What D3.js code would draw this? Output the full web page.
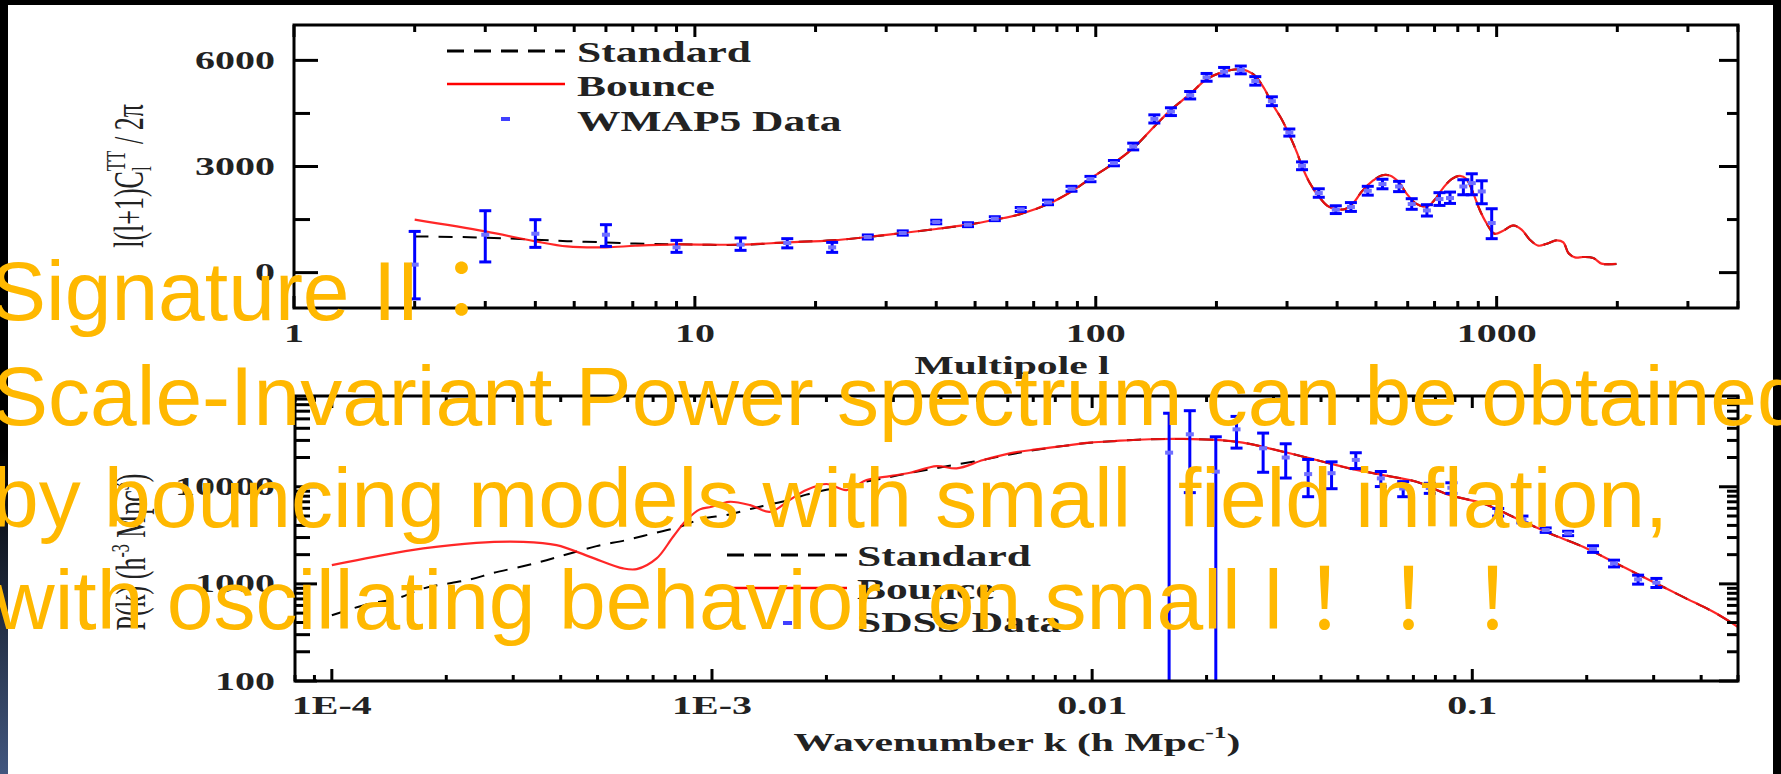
<!DOCTYPE html>
<html>
<head>
<meta charset="utf-8">
<script src="https://cdn.jsdelivr.net/npm/d3@7"></script>
<style>
  html, body { margin: 0; padding: 0; background: #000; overflow: hidden; }
  svg { display: block; }
</style>
</head>
<body>
<svg id="fig" width="1781" height="774"></svg>
<script>
// ---------- CMB temperature spectrum (top panel) ----------
const multipoleGrid = [2, 3, 4, 4.8, 6, 7.1, 9, 13, 17, 22, 27, 33, 40, 48, 56, 65, 76, 87, 97, 111, 124, 140, 154, 172, 189, 209, 230, 239, 250, 263, 275, 290, 304, 318, 327, 342, 360, 378, 397, 419, 440, 461, 492, 516, 541, 568, 595, 630, 670, 701, 735, 772, 810, 841, 874, 907, 943, 988, 1038, 1100, 1154, 1210, 1270, 1334, 1412, 1467, 1510, 1568, 1645, 1742, 1826, 1990];
const bounceTT = [1496, 1165, 884, 740, 714, 760, 800, 790, 855, 912, 1007, 1120, 1233, 1355, 1496, 1656, 1938, 2295, 2662, 3096, 3519, 4130, 4600, 5051, 5465, 5681, 5748, 5700, 5559, 5212, 4789, 4365, 3894, 3378, 3000, 2531, 2154, 1891, 1798, 1798, 1984, 2295, 2605, 2747, 2747, 2577, 2249, 1947, 1871, 2060, 2390, 2644, 2737, 2644, 2249, 1778, 1402, 1100, 1185, 1335, 1213, 931, 762, 818, 912, 855, 555, 432, 442, 414, 254, 245];
const standardTT = [1024, 990, 931, 890, 855, 820, 800, 785, 855, 912, 1007, 1120, 1233, 1355, 1496, 1656, 1938, 2295, 2662, 3096, 3519, 4130, 4600, 5051, 5465, 5681, 5748, 5700, 5559, 5212, 4789, 4365, 3894, 3378, 3000, 2531, 2154, 1891, 1798, 1798, 1984, 2295, 2605, 2747, 2747, 2577, 2249, 1947, 1871, 2060, 2390, 2644, 2737, 2644, 2249, 1778, 1402, 1100, 1185, 1335, 1213, 931, 762, 818, 912, 855, 555, 432, 442, 414, 254, 245];

const wmapL  = [2, 3, 4, 6, 9, 13, 17, 22, 27, 33, 40, 48, 56, 65, 76, 87, 97, 111, 124, 140, 154, 172, 189, 209, 230, 250, 275, 304, 327, 360, 397, 433, 477, 519, 571, 614, 670, 720, 765, 826, 867, 918, 972];
const wmapTT = [226, 1072, 1100, 1072, 714, 790, 838, 714, 1007, 1120, 1430, 1355, 1524, 1786, 1984, 2370, 2644, 3096, 3564, 4346, 4552, 5015, 5522, 5681, 5729, 5418, 4845, 3960, 3020, 2249, 1778, 1854, 2314, 2503, 2435, 1938, 1758, 2080, 2108, 2435, 2531, 2295, 1402];
const wmapLo = [-742, 302, 714, 742, 573, 630, 700, 573, 950, 1060, 1380, 1300, 1470, 1730, 1920, 2300, 2570, 3020, 3470, 4230, 4440, 4910, 5410, 5560, 5620, 5300, 4720, 3860, 2910, 2130, 1670, 1730, 2190, 2370, 2290, 1790, 1600, 1900, 1956, 2201, 2201, 1947, 960];
const wmapHi = [1165, 1750, 1496, 1355, 912, 980, 960, 855, 1065, 1180, 1480, 1410, 1580, 1840, 2050, 2440, 2720, 3170, 3660, 4460, 4660, 5120, 5630, 5800, 5840, 5540, 4970, 4060, 3130, 2370, 1890, 1980, 2440, 2640, 2580, 2090, 1920, 2260, 2277, 2625, 2794, 2596, 1806];

const topYMajor = [0, 3000, 6000];
const topYMinor = [1500, 4500];

// ---------- matter power spectrum (bottom panel) ----------
const waveGrid = [1.0e-4, 1.29e-4, 1.74e-4, 2.4e-4, 3.18e-4, 3.9e-4, 4.78e-4, 5.84e-4, 6.34e-4, 7.15e-4, 7.9e-4, 8.57e-4, 9.29e-4, 9.98e-4, 1.11e-3, 1.26e-3, 1.42e-3, 1.6e-3, 1.77e-3, 2.0e-3, 2.26e-3, 2.55e-3, 2.94e-3, 3.32e-3, 3.9e-3, 4.4e-3, 5.17e-3, 6.07e-3, 7.14e-3, 8.39e-3, 9.86e-3, 1.16e-2, 1.42e-2, 1.735e-2, 2.12e-2, 2.49e-2, 3.18e-2, 3.89e-2, 4.76e-2, 5.83e-2, 7.13e-2, 8.73e-2, 0.1068, 0.1307, 0.16, 0.1956, 0.2394, 0.293, 0.3584, 0.4387, 0.5];
const bouncePk = [1560, 1897, 2318, 2649, 2710, 2506, 1897, 1443, 1419, 1828, 3054, 4540, 5850, 6220, 7000, 6470, 5520, 7300, 9250, 10670, 9250, 11720, 12880, 13930, 16330, 15450, 18840, 22080, 24270, 26300, 28440, 29650, 30830, 31050, 30340, 28440, 22960, 18840, 15450, 13180, 11250, 8200, 6730, 4720, 3300, 2410, 1622, 1092, 735, 495, 360];
const standardK = [1.0e-4, 1.26e-4, 1.48e-4, 1.74e-4, 2.31e-4, 2.66e-4, 3.18e-4, 3.67e-4, 4.23e-4, 4.97e-4, 5.96e-4, 7.0e-4, 8.23e-4, 9.48e-4, 1.09e-3, 1.28e-3, 1.42e-3, 1.6e-3, 1.77e-3, 2.0e-3, 2.26e-3, 2.55e-3, 2.94e-3, 3.32e-3, 3.9e-3, 4.4e-3, 5.17e-3, 6.07e-3, 7.14e-3, 8.39e-3, 9.86e-3, 1.16e-2, 1.42e-2, 1.735e-2, 2.12e-2, 2.49e-2, 3.18e-2, 3.89e-2, 4.76e-2, 5.83e-2, 7.13e-2, 8.73e-2, 0.1068, 0.1307, 0.16, 0.1956, 0.2394, 0.293, 0.3584, 0.4387, 0.5];
const standardPk = [475, 628, 706, 897, 1109, 1297, 1520, 1754, 2056, 2448, 2826, 3311, 3875, 4725, 5110, 5980, 6600, 7300, 8300, 9300, 10200, 11300, 12600, 13900, 15600, 17000, 18900, 21500, 24000, 26300, 28440, 29650, 30830, 31050, 30340, 28440, 22960, 18840, 15450, 13180, 11250, 8200, 6730, 4720, 3300, 2410, 1622, 1092, 735, 495, 360];

const sdssK   = [0.01594, 0.01807, 0.02115, 0.02398, 0.02817, 0.0323, 0.037, 0.04264, 0.04938, 0.05747, 0.0658, 0.0773, 0.0881, 0.117, 0.1355, 0.156, 0.1787, 0.2078, 0.236, 0.273, 0.305];
const sdssPk  = [22440, 34700, 14290, 39000, 24900, 20000, 13500, 13800, 18900, 12200, 9600, 9700, 9770, 5485, 4620, 3580, 3310, 2290, 1625, 1112, 1028];
const sdssErr = [34700, 26000, 18400, 14000, 10800, 7700, 5600, 4250, 3500, 2150, 1700, 1150, 1220, 495, 370, 190, 170, 180, 130, 118, 110];

const botXLabels = {"-4": "1E-4", "-3": "1E-3", "-2": "0.01", "-1": "0.1"};

const seriesNames = ["Standard", "Bounce"];
const slideLines = [
  "Signature II\uFF1A",
  "Scale-Invariant Power spectrum can be obtained",
  "by bouncing models with small  field inflation,",
  "with oscillating behavior  on small l\uFF01\uFF01\uFF01"
];

// ---------- drawing ----------
const W = 1781, H = 774;
const SX = 1.6;                 // horizontal stretch of the figure's lettering
const SERIF = "'Liberation Serif', 'DejaVu Serif', 'Times New Roman', serif";
const svg = d3.select("#fig");
const defs = svg.append("defs");

const edge = defs.append("linearGradient").attr("id", "edge")
  .attr("x1", 0).attr("y1", 0).attr("x2", 0).attr("y2", 1);
edge.append("stop").attr("offset", "0.58").attr("stop-color", "#000");
edge.append("stop").attr("offset", "1").attr("stop-color", "#42577f");

svg.append("rect").attr("width", W).attr("height", H).attr("fill", "#000");
svg.append("rect").attr("x", 0).attr("y", 0).attr("width", 8).attr("height", H).attr("fill", "url(#edge)");
svg.append("rect").attr("x", 8).attr("y", 5).attr("width", 1765).attr("height", H - 5).attr("fill", "#fff");

function stretched(parent, x, y, txt, o) {
  const g = parent.append("g").attr("transform", `translate(${x},${y}) scale(${o.sx || SX},1)`);
  return g.append("text")
    .attr("text-anchor", o.anchor || "middle")
    .attr("dominant-baseline", o.baseline || "central")
    .attr("font-family", SERIF)
    .attr("font-weight", o.weight || "bold")
    .attr("font-size", o.size || 25)
    .attr("fill", o.fill || "#222")
    .text(txt);
}

const line = (x, y, xs, ys) => d3.line()
  .x((d, i) => x(xs[i])).y(d => y(d))
  .curve(d3.curveCatmullRom.alpha(0.5));

function tick(g, x1, y1, x2, y2) {
  g.append("line").attr("x1", x1).attr("y1", y1).attr("x2", x2).attr("y2", y2)
    .attr("stroke", "#000").attr("stroke-width", 3);
}

// ===== top panel =====
const tp = {l: 294, r: 1738, t: 25, b: 308};
const xTop = d3.scaleLog().domain([1, 4000]).range([tp.l, tp.r]);
const yTop = d3.scaleLinear().domain([-1000, 7000]).range([tp.b, tp.t]);

defs.append("clipPath").attr("id", "clipTop").append("rect")
  .attr("x", tp.l).attr("y", tp.t).attr("width", tp.r - tp.l).attr("height", tp.b - tp.t);

const topG = svg.append("g");
const topPlot = topG.append("g").attr("clip-path", "url(#clipTop)");

topPlot.append("path").attr("d", line(xTop, yTop, multipoleGrid)(standardTT))
  .attr("fill", "none").attr("stroke", "#000").attr("stroke-width", 2).attr("stroke-dasharray", "14,10");
topPlot.append("path").attr("d", line(xTop, yTop, multipoleGrid)(bounceTT))
  .attr("fill", "none").attr("stroke", "#ff1010").attr("stroke-width", 2.2).attr("opacity", 0.9);

const wm = topPlot.append("g").attr("stroke", "#0000ff").attr("stroke-width", 3);
wmapL.forEach((l, i) => {
  const x = xTop(l), y0 = yTop(wmapLo[i]), y1 = yTop(wmapHi[i]);
  wm.append("line").attr("x1", x).attr("x2", x).attr("y1", y0).attr("y2", y1);
  wm.append("line").attr("x1", x - 6).attr("x2", x + 6).attr("y1", y0).attr("y2", y0);
  wm.append("line").attr("x1", x - 6).attr("x2", x + 6).attr("y1", y1).attr("y2", y1);
  topPlot.append("rect").attr("x", x - 4).attr("y", yTop(wmapTT[i]) - 2).attr("width", 8).attr("height", 4)
    .attr("fill", "#7070ff");
});

xTop.ticks().forEach(t => {
  const major = Math.abs(Math.log10(t) - Math.round(Math.log10(t))) < 1e-9;
  const len = major ? 12 : 7, x = xTop(t);
  tick(topG, x, tp.b, x, tp.b - len);
  tick(topG, x, tp.t, x, tp.t + len);
  if (major) stretched(topG, x, 333, d3.format("d")(t), {});
});
topYMajor.concat(topYMinor).forEach(v => {
  const major = topYMajor.includes(v), y = yTop(v);
  tick(topG, tp.l, y, tp.l + (major ? 24 : 16), y);
  tick(topG, tp.r, y, tp.r - (major ? 19 : 11), y);
  if (major) stretched(topG, 275, y, String(v), {anchor: "end"});
});
topG.append("rect").attr("x", tp.l).attr("y", tp.t).attr("width", tp.r - tp.l).attr("height", tp.b - tp.t)
  .attr("fill", "none").attr("stroke", "#000").attr("stroke-width", 3);

stretched(topG, 1012, 365, "Multipole l", {size: 26});

{
  const g = topG.append("g").attr("transform", `translate(143,176) scale(${SX},1) rotate(-90)`);
  const t = g.append("text").attr("text-anchor", "middle").attr("font-family", SERIF)
    .attr("font-size", 26).attr("fill", "#222");
  t.append("tspan").text("l(l+1)C");
  t.append("tspan").attr("font-size", 17).attr("dy", 5).text("l");
  t.append("tspan").attr("font-size", 17).attr("dx", -5).attr("dy", -16).text("TT");
  t.append("tspan").attr("dy", 11).text(" / 2\u03C0");
}

topG.append("line").attr("x1", 447).attr("x2", 565).attr("y1", 51).attr("y2", 51)
  .attr("stroke", "#000").attr("stroke-width", 3).attr("stroke-dasharray", "17,10");
topG.append("line").attr("x1", 447).attr("x2", 565).attr("y1", 84).attr("y2", 84)
  .attr("stroke", "#ff0000").attr("stroke-width", 2.5);
topG.append("rect").attr("x", 501).attr("y", 117).attr("width", 9).attr("height", 4).attr("fill", "#4040ff");
stretched(topG, 577, 52, seriesNames[0], {anchor: "start", size: 29, sx: 1.5});
stretched(topG, 577, 86, seriesNames[1], {anchor: "start", size: 29, sx: 1.5});
stretched(topG, 577, 121, "WMAP5 Data", {anchor: "start", size: 29, sx: 1.5});

// ===== bottom panel =====
const bp = {l: 295, r: 1738, t: 396, b: 681};
const xBot = d3.scaleLog().domain([8e-5, 0.5]).range([bp.l, bp.r]);
const yBot = d3.scaleLog().domain([100, 86000]).range([bp.b, bp.t]);

defs.append("clipPath").attr("id", "clipBot").append("rect")
  .attr("x", bp.l).attr("y", bp.t).attr("width", bp.r - bp.l).attr("height", bp.b - bp.t);

const botG = svg.append("g");
const botPlot = botG.append("g").attr("clip-path", "url(#clipBot)");

botPlot.append("path").attr("d", line(xBot, yBot, standardK)(standardPk))
  .attr("fill", "none").attr("stroke", "#000").attr("stroke-width", 2).attr("stroke-dasharray", "14,10");
botPlot.append("path").attr("d", line(xBot, yBot, waveGrid)(bouncePk))
  .attr("fill", "none").attr("stroke", "#ff1010").attr("stroke-width", 2.2).attr("opacity", 0.9);

const sd = botPlot.append("g").attr("stroke", "#0000ff").attr("stroke-width", 3);
sdssK.forEach((k, i) => {
  const x = xBot(k);
  const lo = sdssPk[i] - sdssErr[i], hi = sdssPk[i] + sdssErr[i];
  const y1 = yBot(hi), y0 = lo > 0 ? yBot(lo) : bp.b + 2;
  sd.append("line").attr("x1", x).attr("x2", x).attr("y1", y0).attr("y2", y1);
  sd.append("line").attr("x1", x - 6).attr("x2", x + 6).attr("y1", y1).attr("y2", y1);
  sd.append("line").attr("x1", x - 6).attr("x2", x + 6).attr("y1", y0).attr("y2", y0);
  botPlot.append("rect").attr("x", x - 4).attr("y", yBot(sdssPk[i]) - 2).attr("width", 8).attr("height", 4)
    .attr("fill", "#7070ff");
});

xBot.ticks().forEach(t => {
  const lg = Math.log10(t);
  const major = Math.abs(lg - Math.round(lg)) < 1e-9;
  const len = major ? 12 : 6, x = xBot(t);
  tick(botG, x, bp.b, x, bp.b - len);
  tick(botG, x, bp.t, x, bp.t + len);
  if (major) stretched(botG, x, 705, botXLabels[String(Math.round(lg))], {});
});
yBot.ticks().forEach(t => {
  const lg = Math.log10(t);
  const major = Math.abs(lg - Math.round(lg)) < 1e-9;
  const y = yBot(t);
  tick(botG, bp.l, y, bp.l + (major ? 22 : 15), y);
  tick(botG, bp.r, y, bp.r - (major ? 19 : 11), y);
  if (major) stretched(botG, 275, y, String(t), {anchor: "end"});
});
botG.append("rect").attr("x", bp.l).attr("y", bp.t).attr("width", bp.r - bp.l).attr("height", bp.b - bp.t)
  .attr("fill", "none").attr("stroke", "#000").attr("stroke-width", 3);

{
  const t = stretched(botG, 1017, 742, "", {size: 26});
  t.append("tspan").text("Wavenumber k (h Mpc");
  t.append("tspan").attr("font-size", 16).attr("dy", -9).text("-1");
  t.append("tspan").attr("dy", 9).text(")");
}
{
  const g = botG.append("g").attr("transform", `translate(145,552) scale(${SX},1) rotate(-90)`);
  const t = g.append("text").attr("text-anchor", "middle").attr("font-family", SERIF)
    .attr("font-size", 26).attr("fill", "#222");
  t.append("tspan").text("P(k) (h");
  t.append("tspan").attr("font-size", 16).attr("dy", -10).text("-3");
  t.append("tspan").attr("dy", 10).text(" Mpc");
  t.append("tspan").attr("font-size", 16).attr("dy", -10).text("3");
  t.append("tspan").attr("dy", 10).text(")");
}

botG.append("line").attr("x1", 727).attr("x2", 847).attr("y1", 555).attr("y2", 555)
  .attr("stroke", "#000").attr("stroke-width", 3).attr("stroke-dasharray", "17,10");
botG.append("line").attr("x1", 727).attr("x2", 847).attr("y1", 588).attr("y2", 588)
  .attr("stroke", "#ff0000").attr("stroke-width", 2.5);
botG.append("rect").attr("x", 783).attr("y", 621).attr("width", 9).attr("height", 4).attr("fill", "#4040ff");
stretched(botG, 857, 556, seriesNames[0], {anchor: "start", size: 29, sx: 1.5});
stretched(botG, 857, 589, seriesNames[1], {anchor: "start", size: 29, sx: 1.5});
stretched(botG, 857, 622, "SDSS Data", {anchor: "start", size: 29, sx: 1.5});

// ===== slide caption on top =====
const cap = svg.append("g")
  .attr("font-family", "'Liberation Sans', Arial, 'Noto Sans CJK JP', sans-serif")
  .attr("font-size", 84).attr("fill", "#ffb800");
const baselines = [320, 425, 527, 629];
const starts = [-10, -8, -8, -6];
slideLines.forEach((s, i) => {
  cap.append("text").attr("x", starts[i]).attr("y", baselines[i]).style("white-space", "pre").text(s);
});
</script>
</body>
</html>
